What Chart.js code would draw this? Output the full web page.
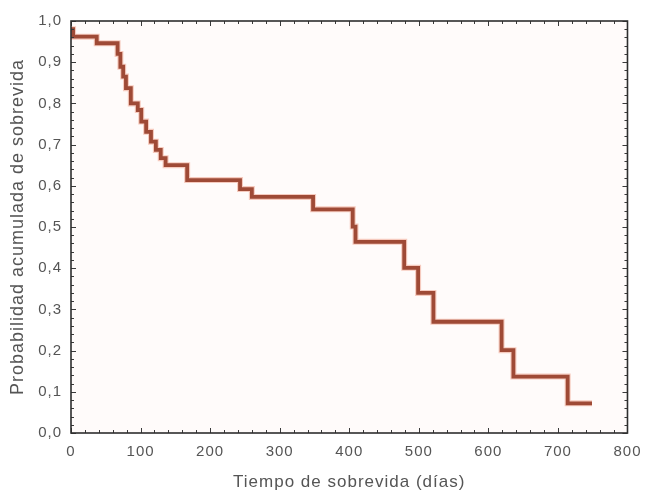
<!DOCTYPE html>
<html>
<head>
<meta charset="utf-8">
<script src="https://cdn.jsdelivr.net/npm/chart.js@4/dist/chart.umd.min.js"></script>
<style>
  html, body { margin: 0; padding: 0; background: #fff; }
  #wrap { width: 650px; height: 493px; }
</style>
</head>
<body>
<div id="wrap"><canvas id="km" width="650" height="493"></canvas></div>
<script>
// Kaplan-Meier survival estimate
const days = [0, 3, 37, 67, 71, 75, 79, 86, 96, 101, 108, 115, 122, 129, 136, 167, 243, 260, 348, 405, 409, 479, 499, 521, 619, 636, 714, 749];
const survival = [0.98, 0.962, 0.946, 0.92, 0.889, 0.865, 0.837, 0.800, 0.784, 0.756, 0.731, 0.707, 0.687, 0.667, 0.650, 0.614, 0.592, 0.573, 0.543, 0.501, 0.464, 0.401, 0.340, 0.270, 0.201, 0.137, 0.072, 0.072];

const xTickLabels = ['0', '100', '200', '300', '400', '500', '600', '700', '800'];
const yTickLabels = ['0,0', '0,1', '0,2', '0,3', '0,4', '0,5', '0,6', '0,7', '0,8', '0,9', '1,0'];

const points = days.map((d, i) => ({ x: d, y: survival[i] }));

// plot background, frame and the little inward ticks
const framePlugin = {
  id: 'frame',
  beforeDraw(chart) {
    // the original text is rendered a bit loose
    chart.ctx.letterSpacing = '1px';
  },
  beforeDatasetsDraw(chart) {
    const { ctx, chartArea: a } = chart;
    ctx.save();
    ctx.fillStyle = '#fffbfa';
    ctx.fillRect(a.left, a.top, a.right - a.left, a.bottom - a.top);
    ctx.restore();
  },
  afterDatasetsDraw(chart) {
    const { ctx, chartArea: a, scales } = chart;
    ctx.save();
    ctx.strokeStyle = '#3a3a3a';
    ctx.lineWidth = 1;
    for (let v = 0; v <= 800; v += 20) {
      const px = Math.round(scales.x.getPixelForValue(v)) + 0.5;
      const len = v % 100 === 0 ? 5 : 3;
      ctx.beginPath();
      ctx.moveTo(px, a.bottom); ctx.lineTo(px, a.bottom - len);
      ctx.moveTo(px, a.top); ctx.lineTo(px, a.top + len);
      ctx.stroke();
    }
    for (let k = 0; k <= 50; k++) {
      const py = Math.round(scales.y.getPixelForValue(k / 50)) + 0.5;
      const len = k % 5 === 0 ? 5 : 3;
      ctx.beginPath();
      ctx.moveTo(a.left, py); ctx.lineTo(a.left + len, py);
      ctx.moveTo(a.right, py); ctx.lineTo(a.right - len, py);
      ctx.stroke();
    }
    ctx.lineWidth = 1.6;
    ctx.strokeStyle = '#2e2e2e';
    ctx.strokeRect(a.left, a.top, a.right - a.left, a.bottom - a.top);
    ctx.restore();
  }
};

new Chart(document.getElementById('km'), {
  type: 'line',
  data: {
    datasets: [
      {
        // soft orange halo under the curve
        data: points,
        stepped: 'before',
        borderColor: 'rgba(232,130,100,0.4)',
        borderWidth: 6,
        pointRadius: 0,
        fill: false
      },
      {
        data: points,
        stepped: 'before',
        borderColor: '#6e2618',
        borderWidth: 3.8,
        pointRadius: 0,
        fill: false
      }
    ]
  },
  plugins: [framePlugin],
  options: {
    responsive: false,
    animation: false,
    layout: { padding: { top: 21, right: 18, left: 0, bottom: 0 } },
    plugins: { legend: { display: false }, tooltip: { enabled: false } },
    scales: {
      x: {
        type: 'linear',
        min: 0,
        max: 800,
        afterFit(s) { s.height = 60; },
        grid: { display: false, drawTicks: false },
        border: { display: false },
        ticks: {
          stepSize: 100,
          padding: 10,
          color: '#555',
          font: { family: 'Liberation Sans', size: 15 },
          maxRotation: 0,
          callback: (v) => xTickLabels[v / 100]
        },
        title: {
          display: true,
          text: 'Tiempo de sobrevida (días)',
          color: '#555',
          font: { family: 'Liberation Sans', size: 17 },
          padding: { top: 0, bottom: 0 }
        }
      },
      y: {
        min: 0,
        max: 1,
        afterFit(s) { s.width = 71; },
        grid: { display: false, drawTicks: false },
        border: { display: false },
        ticks: {
          stepSize: 0.1,
          padding: 9,
          color: '#555',
          font: { family: 'Liberation Sans', size: 15 },
          callback: (v) => yTickLabels[Math.round(v * 10)]
        },
        title: {
          display: true,
          text: 'Probabilidad acumulada de sobrevida',
          color: '#555',
          font: { family: 'Liberation Sans', size: 18 },
          padding: { top: 7, bottom: 0 }
        }
      }
    }
  }
});
</script>
</body>
</html>
